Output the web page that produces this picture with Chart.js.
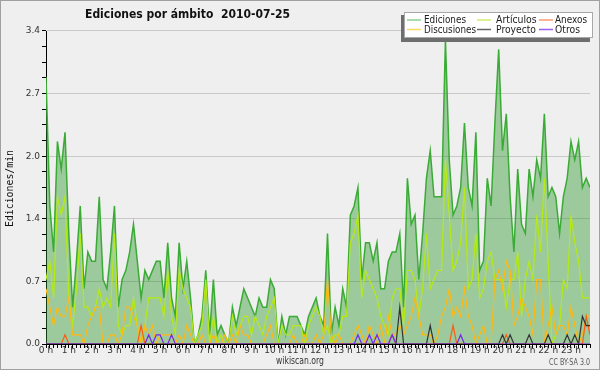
<!DOCTYPE html>
<html>
<head>
<meta charset="utf-8">
<script src="https://cdn.jsdelivr.net/npm/chart.js@4.4.1/dist/chart.umd.min.js"></script>
<style>
  html, body { margin: 0; padding: 0; background: #efefef; }
  #wrap { width: 600px; height: 370px; }
</style>
</head>
<body>
<div id="wrap"><canvas id="chart" width="600" height="370"></canvas></div>
<script>
// one value every 10 minutes, 0:00 .. 23:50 (edits per minute)
const hourLabels = ['0 h','1 h','2 h','3 h','4 h','5 h','6 h','7 h','8 h','9 h','10 h','11 h',
                    '12 h','13 h','14 h','15 h','16 h','17 h','18 h','19 h','20 h','21 h','22 h','23 h'];
const yTickLabels = ['0.0', '0.7', '1.4', '2.0', '2.7', '3.4'];

const ediciones = [
  2.9,1.5,1.0,2.2,1.9,2.3,1.2,0.4,0.9,1.5,0.6,1.0,0.9,0.9,1.6,0.7,0.6,1.0,1.5,0.4,0.7,0.8,1.0,1.3,
  0.9,0.5,0.8,0.7,0.8,0.9,0.9,0.5,1.1,0.5,0.3,1.1,0.6,0.9,0.5,0.0,0.1,0.3,0.8,0.1,0.7,0.1,0.2,0.1,
  0.0,0.4,0.2,0.4,0.6,0.5,0.4,0.3,0.5,0.4,0.4,0.7,0.6,0.0,0.3,0.1,0.3,0.3,0.3,0.2,0.1,0.3,0.4,0.5,
  0.3,0.2,1.2,0.1,0.4,0.2,0.6,0.4,1.4,1.5,1.7,0.7,1.1,1.1,0.9,1.1,0.6,0.6,0.9,1.0,1.0,1.2,0.4,1.8,
  1.3,1.4,0.7,1.2,1.8,2.1,1.6,1.6,1.6,3.3,2.0,1.4,1.5,1.7,2.4,1.7,1.5,2.3,0.8,0.9,1.8,1.5,2.4,3.2,
  2.1,2.5,1.6,1.0,1.9,1.3,1.2,1.9,1.6,2.0,1.8,2.5,1.6,1.7,1.6,1.2,1.6,1.8,2.2,2.0,2.2,1.7,1.8,1.7
];
const articulos = [
  0.7,0.9,0.5,1.6,1.4,1.6,0.5,0.2,0.6,1.2,0.4,0.4,0.3,0.4,0.6,0.4,0.5,0.4,1.2,0.2,0.1,0.2,0.2,0.5,
  0.2,0.0,0.2,0.5,0.5,0.5,0.5,0.3,0.8,0.3,0.1,0.8,0.6,0.5,0.4,0.0,0.1,0.2,0.7,0.0,0.3,0.0,0.1,0.0,
  0.0,0.3,0.1,0.2,0.3,0.3,0.1,0.3,0.2,0.1,0.3,0.4,0.5,0.0,0.2,0.1,0.1,0.2,0.2,0.2,0.0,0.2,0.3,0.4,
  0.3,0.1,0.2,0.0,0.1,0.1,0.3,0.3,1.1,1.2,1.4,0.5,0.8,0.7,0.6,0.5,0.3,0.2,0.1,0.5,0.6,0.6,0.2,0.8,
  0.8,0.7,0.3,0.6,1.2,0.6,0.7,0.8,0.8,2.0,1.4,0.8,0.9,1.1,1.7,0.6,0.7,1.2,0.5,0.6,0.9,1.0,0.7,0.7,
  0.7,0.4,0.7,0.7,1.0,0.3,0.7,0.9,0.7,1.4,1.0,1.8,0.9,0.0,0.1,0.2,0.7,0.6,1.4,1.1,0.9,0.5,0.5,0.5
];
const discusiones = [
  0.6,0.4,0.2,0.4,0.3,0.3,0.5,0.1,0.1,0.1,0.0,0.2,0.3,0.4,0.4,0.0,0.0,0.1,0.1,0.0,0.1,0.4,0.4,0.3,
  0.2,0.0,0.2,0.1,0.2,0.0,0.1,0.1,0.1,0.1,0.0,0.1,0.0,0.2,0.1,0.0,0.0,0.1,0.0,0.0,0.1,0.0,0.0,0.1,
  0.0,0.1,0.0,0.2,0.1,0.1,0.0,0.0,0.0,0.0,0.1,0.2,0.0,0.0,0.0,0.0,0.0,0.1,0.0,0.0,0.1,0.0,0.0,0.1,
  0.0,0.1,0.7,0.1,0.0,0.1,0.0,0.0,0.0,0.1,0.2,0.1,0.0,0.2,0.1,0.0,0.2,0.0,0.3,0.1,0.1,0.2,0.1,0.2,
  0.3,0.5,0.3,0.1,0.1,0.1,0.0,0.1,0.3,0.4,0.6,0.3,0.4,0.3,0.6,0.3,0.2,0.0,0.1,0.2,0.0,0.0,0.7,0.8,
  0.6,0.9,0.8,0.2,0.3,0.5,0.4,0.3,0.1,0.7,0.7,0.0,0.2,0.4,0.1,0.2,0.2,0.1,0.4,0.2,0.0,0.1,0.3,0.3
];
const anexos = [
  0,0,0,0,0,0.1,0,0,0,0,0,0,0,0,0,0,0,0,0,0,0,0,0,0,
  0,0.2,0,0,0,0,0,0,0,0,0,0,0,0,0,0,0,0,0,0,0,0,0,0,
  0,0,0,0,0,0,0,0,0,0,0,0,0,0,0,0,0,0,0,0,0,0,0,0,
  0,0,0,0,0,0,0,0,0,0,0,0,0,0,0,0,0,0,0,0.1,0,0,0,0,
  0,0,0,0,0,0,0,0,0,0,0,0.2,0,0,0,0,0,0,0,0,0,0,0,0,
  0,0.1,0,0,0,0,0,0,0,0,0,0,0,0,0,0,0,0,0,0,0,0,0.3,0.1
];
const proyecto = [
  0,0,0,0,0,0,0,0,0,0,0,0,0,0,0,0,0,0,0,0,0,0,0,0,
  0,0,0,0,0,0,0,0,0,0,0,0,0,0,0,0,0,0,0,0,0,0,0,0,
  0,0,0,0,0,0,0,0,0,0,0,0,0,0,0,0,0,0,0,0,0,0,0,0,
  0,0,0,0,0,0,0,0,0,0,0,0,0,0,0,0,0,0,0,0,0,0.4,0,0,
  0,0,0,0,0,0.2,0,0,0,0,0,0,0,0,0,0,0,0,0,0,0,0,0,0,
  0.1,0,0.1,0,0,0,0,0.1,0,0,0,0,0.1,0,0,0,0,0.1,0,0.1,0,0.3,0.2,0.2
];
const otros = [
  0,0,0,0,0,0,0,0,0,0,0,0,0,0,0,0,0,0,0,0,0,0,0,0,
  0,0,0,0.1,0,0.1,0.1,0,0,0.1,0,0,0,0,0,0,0,0,0,0,0,0,0,0,
  0,0,0,0,0,0,0,0,0,0,0,0,0,0,0,0,0,0,0,0,0,0,0,0,
  0,0,0,0,0,0,0,0,0,0,0.1,0,0,0.1,0,0.1,0,0,0,0.1,0,0,0,0,
  0,0,0,0,0,0,0,0,0,0,0,0,0,0.1,0,0,0,0,0,0,0,0,0,0,
  0,0,0,0,0,0,0,0,0,0,0,0,0,0,0,0,0,0,0,0,0,0,0,0
];

const seriesNames = ['Ediciones', 'Artículos', 'Discusiones', 'Anexos', 'Proyecto', 'Otros'];
const lineColors = ['#3aab35', '#b6ea12', '#ffb812', '#ff5a14', '#333333', '#7426ec'];
const legendColors = ['#8fd18f', '#d2ef6c', '#ffd862', '#ff9a72', '#666666', '#9a60f0'];

const slots = ediciones.map((_, i) => i);
const toPoints = arr => arr.map((v, i) => ({ x: i, y: v }));

function fitText(ctx, text, x, y, w, font, color, align) {
    ctx.save();
    ctx.font = font;
    ctx.fillStyle = color;
    ctx.textBaseline = 'alphabetic';
    ctx.textAlign = align || 'left';
    const m = ctx.measureText(text).width;
    ctx.translate(x, y);
    ctx.scale(w / m, 1);
    ctx.fillText(text, 0, 0);
    ctx.restore();
}

const decorations = {
    id: 'decorations',
    beforeDraw(chart) {
        const ctx = chart.ctx;
        ctx.save();
        ctx.fillStyle = '#efefef';
        ctx.fillRect(0, 0, chart.width, chart.height);
        ctx.restore();
    },
    afterDraw(chart) {
        const ctx = chart.ctx;
        // title
        fitText(ctx, 'Ediciones por ámbito  2010-07-25', 187.5, 18, 205, 'bold 13px "DejaVu Sans"', '#111', 'center');
        // y axis title
        ctx.save();
        ctx.translate(13, 227);
        ctx.rotate(-Math.PI / 2);
        fitText(ctx, 'Ediciones/min', 0, 0, 77, '11px "DejaVu Sans Mono"', '#111', 'left');
        ctx.restore();
        // footer
        fitText(ctx, 'wikiscan.org', 300, 364, 48, '10px "DejaVu Sans"', '#333', 'center');
        fitText(ctx, 'CC BY-SA 3.0', 590, 365, 41, '8px "DejaVu Sans"', '#555', 'right');

        // legend box with shadow
        ctx.save();
        ctx.fillStyle = '#6e6e6e';
        ctx.fillRect(401, 15, 189, 27);
        ctx.fillStyle = '#ffffff';
        ctx.fillRect(404, 12, 189, 26);
        ctx.strokeStyle = '#a8a8a8';
        ctx.lineWidth = 1;
        ctx.strokeRect(404.5, 12.5, 188, 25);
        ctx.restore();

        const cells = [
            { s: 0, lx: 407, tx: 424, row: 0, w: 42 },
            { s: 1, lx: 477, tx: 496, row: 0, w: 40.7 },
            { s: 3, lx: 539, tx: 555, row: 0, w: 32 },
            { s: 2, lx: 407, tx: 424, row: 1, w: 52 },
            { s: 4, lx: 477, tx: 496, row: 1, w: 40 },
            { s: 5, lx: 539, tx: 555, row: 1, w: 25 }
        ];
        const lineY = [20, 29.5];
        const textY = [22.7, 32.7];
        cells.forEach(c => {
            ctx.save();
            ctx.strokeStyle = legendColors[c.s];
            ctx.lineWidth = 1.5;
            ctx.beginPath();
            ctx.moveTo(c.lx, lineY[c.row]);
            ctx.lineTo(c.lx + 14, lineY[c.row]);
            ctx.stroke();
            ctx.restore();
            fitText(ctx, seriesNames[c.s], c.tx, textY[c.row], c.w, '10.5px "DejaVu Sans"', '#222', 'left');
        });
    }
};

const seriesData = [ediciones, articulos, discusiones, anexos, proyecto, otros];
const datasets = seriesData.map((arr, k) => ({
    label: seriesNames[k],
    data: toPoints(arr),
    borderColor: lineColors[k],
    borderWidth: k === 0 ? 1.5 : 1.2,
    backgroundColor: k === 0 ? 'rgba(40,150,40,0.42)' : 'transparent',
    fill: k === 0 ? 'origin' : false,
    pointRadius: 0,
    tension: 0,
    order: k === 0 ? 10 : 6 - k
}));

new Chart(document.getElementById('chart'), {
    type: 'line',
    data: { datasets },
    plugins: [decorations],
    options: {
        responsive: false,
        animation: false,
        events: [],
        layout: { padding: { top: 31, right: 10, left: 0, bottom: 0 } },
        plugins: {
            legend: { display: false },
            tooltip: { enabled: false },
            title: { display: false }
        },
        scales: {
            x: {
                type: 'linear',
                min: 0,
                max: slots.length - 1,
                z: 1,
                afterBuildTicks: s => { s.ticks = slots.map(v => ({ value: v })); },
                afterFit: s => { s.height = 26; },
                grid: { drawOnChartArea: false, drawTicks: true, tickLength: 4, tickColor: '#000' },
                border: { display: true, color: '#000', width: 1 },
                ticks: {
                    autoSkip: false,
                    maxRotation: 0,
                    padding: -3,
                    color: '#333',
                    font: { family: 'DejaVu Sans', size: 9 },
                    callback: v => (v % 6 === 0 ? hourLabels[v / 6] : '')
                }
            },
            y: {
                min: 0,
                max: 3.4,
                afterBuildTicks: s => {
                    const t = [];
                    for (let i = 0; i <= 20; i++) t.push({ value: i * 0.17 });
                    s.ticks = t;
                },
                afterFit: s => { s.width = 46; },
                grid: {
                    drawTicks: true,
                    tickLength: 4,
                    tickColor: '#000',
                    color: c => (c.index % 4 === 0 ? '#c9c9c9' : 'rgba(0,0,0,0)'),
                    lineWidth: 1
                },
                border: { display: true, color: '#000', width: 1 },
                ticks: {
                    padding: 2,
                    color: '#333',
                    font: { family: 'DejaVu Sans', size: 9 },
                    callback: (v, i) => (i % 4 === 0 ? yTickLabels[i / 4] : '')
                }
            }
        }
    }
});

// outer frame
(function () {
    const c = document.getElementById('chart').getContext('2d');
    c.save();
    c.strokeStyle = '#a0a0a0';
    c.strokeRect(0.5, 0.5, 599, 369);
    c.restore();
})();
</script>
</body>
</html>
